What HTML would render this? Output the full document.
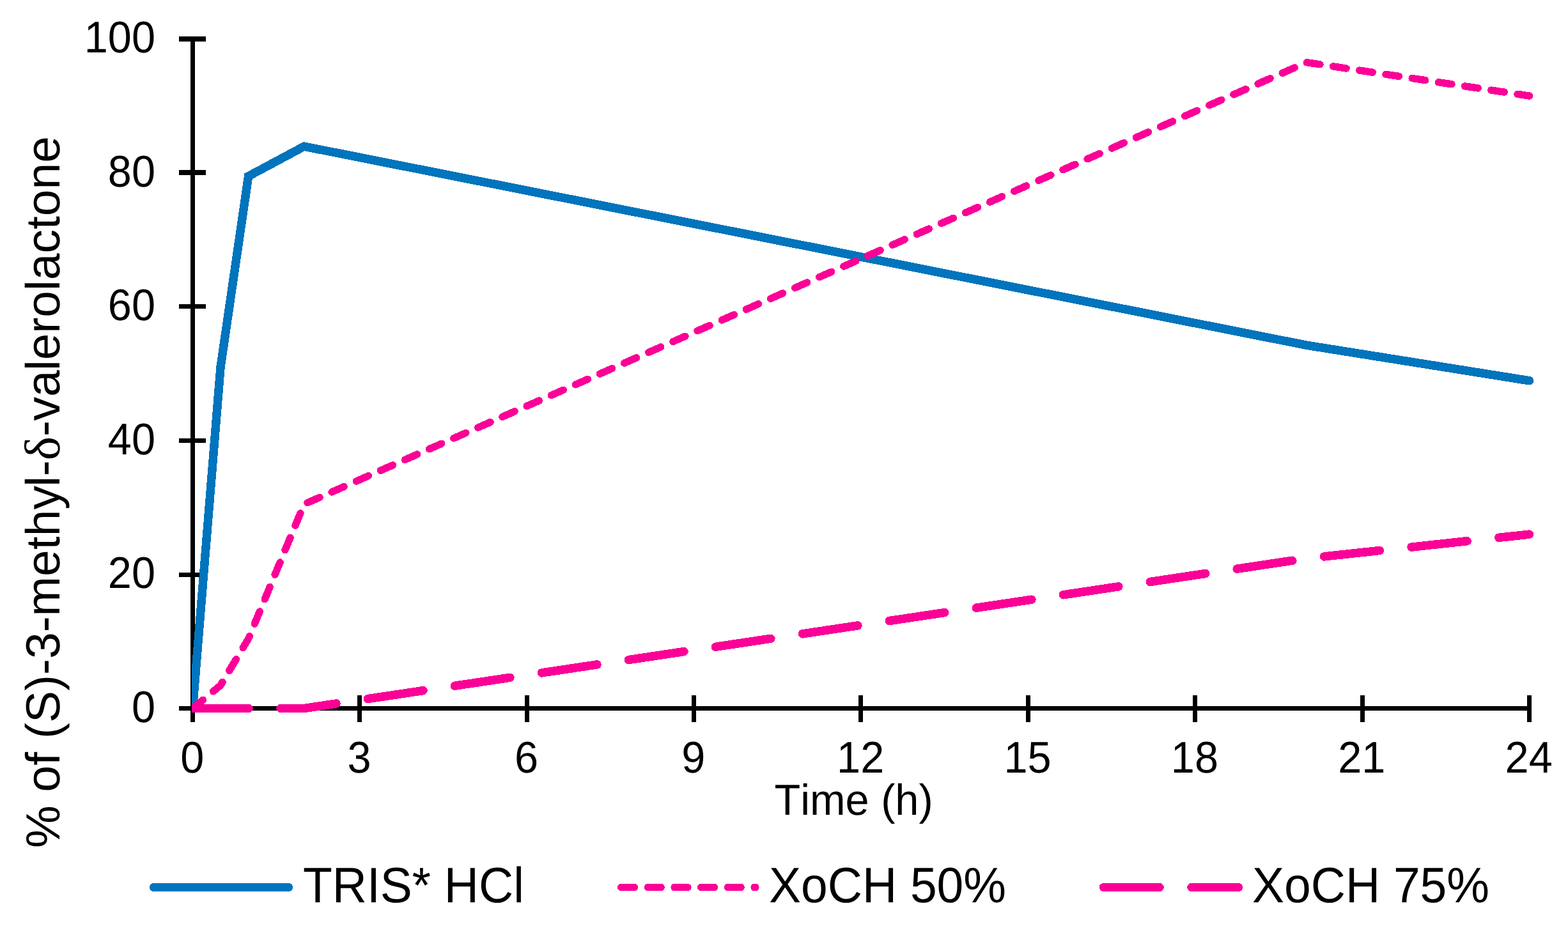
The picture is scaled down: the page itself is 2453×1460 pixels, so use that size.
<!DOCTYPE html>
<html lang="en"><head><meta charset="utf-8"><title>Chart</title>
<style>html,body{margin:0;padding:0;background:#fff}svg{display:block}text{font-family:"Liberation Sans",sans-serif;fill:#000;font-kerning:none;text-rendering:geometricPrecision}.sym{font-family:"Liberation Serif",serif}</style></head><body>
<svg width="2453" height="1460" viewBox="0 0 2453 1460">
<rect width="2453" height="1460" fill="#fff"/>
<defs><clipPath id="plot"><rect x="300" y="0" width="2110" height="1115"/></clipPath></defs>
<g fill="#000" shape-rendering="crispEdges">
<rect x="298" y="57" width="7" height="1073"/>
<rect x="280" y="1105" width="2116" height="7"/>
<rect x="280" y="57" width="42" height="8"/>
<rect x="280" y="266" width="42" height="8"/>
<rect x="280" y="476" width="42" height="7"/>
<rect x="280" y="686" width="42" height="7"/>
<rect x="280" y="896" width="42" height="7"/>
<rect x="280" y="1105" width="42" height="7"/>
<rect x="298" y="1088" width="7" height="42"/>
<rect x="559" y="1088" width="7" height="42"/>
<rect x="821" y="1088" width="7" height="42"/>
<rect x="1082" y="1088" width="7" height="42"/>
<rect x="1343" y="1088" width="7" height="42"/>
<rect x="1605" y="1088" width="7" height="42"/>
<rect x="1866" y="1088" width="7" height="42"/>
<rect x="2128" y="1088" width="7" height="42"/>
<rect x="2389" y="1088" width="7" height="42"/>
</g>
<text transform="translate(243.00 1129.50) scale(1 1.04)" font-size="66.67px" text-anchor="end">0</text>
<text transform="translate(243.00 920.00) scale(1 1.04)" font-size="66.67px" text-anchor="end">20</text>
<text transform="translate(243.00 710.50) scale(1 1.04)" font-size="66.67px" text-anchor="end">40</text>
<text transform="translate(243.00 501.00) scale(1 1.04)" font-size="66.67px" text-anchor="end">60</text>
<text transform="translate(243.00 291.50) scale(1 1.04)" font-size="66.67px" text-anchor="end">80</text>
<text transform="translate(243.00 82.00) scale(1 1.04)" font-size="66.67px" text-anchor="end">100</text>
<text transform="translate(300.70 1209.00) scale(1 1.04)" font-size="66.67px" text-anchor="middle">0</text>
<text transform="translate(562.08 1209.00) scale(1 1.04)" font-size="66.67px" text-anchor="middle">3</text>
<text transform="translate(823.45 1209.00) scale(1 1.04)" font-size="66.67px" text-anchor="middle">6</text>
<text transform="translate(1084.83 1209.00) scale(1 1.04)" font-size="66.67px" text-anchor="middle">9</text>
<text transform="translate(1346.20 1209.00) scale(1 1.04)" font-size="66.67px" text-anchor="middle">12</text>
<text transform="translate(1607.58 1209.00) scale(1 1.04)" font-size="66.67px" text-anchor="middle">15</text>
<text transform="translate(1868.95 1209.00) scale(1 1.04)" font-size="66.67px" text-anchor="middle">18</text>
<text transform="translate(2130.32 1209.00) scale(1 1.04)" font-size="66.67px" text-anchor="middle">21</text>
<text transform="translate(2391.70 1209.00) scale(1 1.04)" font-size="66.67px" text-anchor="middle">24</text>
<text transform="translate(1211.50 1274.80) scale(1 1.02)" font-size="66.67px">Time (h)</text>
<text transform="translate(93.00 1327.00) rotate(-90)" font-size="75px" dx="0 0 0 0 0 0 0 0 0 0 0 0 0 0 0 0 -1.7 0 0 0 -0.5 0 -0.8 0 0 0 0 0 0 0 0 0 0">% of (S)-3-methyl-<tspan class="sym" font-size="79px">δ</tspan>-valerolactone</text>
<g clip-path="url(#plot)" fill="none" stroke-width="13.5" shape-rendering="crispEdges">
<polyline points="301.50,1108.50 345.06,574.27 388.62,275.74 475.75,229.12 2044.00,540.23 2392.50,595.75" stroke="#0074BC" stroke-linecap="round" stroke-linejoin="miter"/>
<polyline points="301.50,1108.50 345.06,1072.36 388.62,999.56 475.75,789.01 2044.00,97.66 2392.50,150.04" stroke="#FB0097" stroke-width="11.4" stroke-linecap="round" stroke-linejoin="round" stroke-dasharray="20.8 20.87" stroke-dashoffset="0"/>
<polyline points="301.50,1108.50 345.06,1108.50 388.62,1108.50 475.75,1108.50 2044.00,873.86 2392.50,836.15" stroke="#FB0097" stroke-linecap="round" stroke-linejoin="round" stroke-dasharray="87.5 50.0" stroke-dashoffset="0"/>
</g>
<g fill="none" stroke-width="13.5" stroke-linecap="round" shape-rendering="crispEdges">
<line x1="240.75" y1="1388.5" x2="451.25" y2="1388.5" stroke="#0074BC"/>
<line x1="971.7" y1="1388.5" x2="1182" y2="1388.5" stroke="#FB0097" stroke-width="11.4" stroke-dasharray="20.8 20.87"/>
<line x1="1726.5" y1="1388.5" x2="1937.5" y2="1388.5" stroke="#FB0097" stroke-dasharray="87.5 50.0"/>
</g>
<text transform="translate(474.00 1412.30) scale(1 1.04)" font-size="75px">TRIS* HCl</text>
<text transform="translate(1203.00 1412.30) scale(1 1.04)" font-size="75px">XoCH 50%</text>
<text transform="translate(1959.00 1412.30) scale(1 1.04)" font-size="75px">XoCH 75%</text>
</svg></body></html>
